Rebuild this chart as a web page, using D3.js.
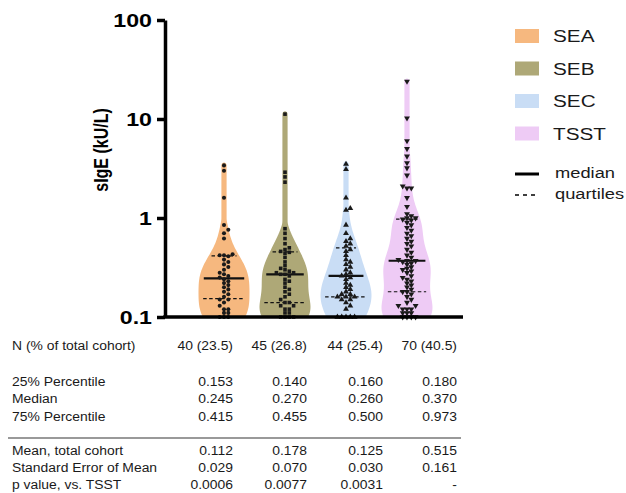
<!DOCTYPE html>
<html>
<head>
<meta charset="utf-8">
<script src="https://cdn.jsdelivr.net/npm/d3@7"></script>
<style>
  body { margin: 0; background: #fff; }
  text { font-family: Arial, "Liberation Sans", sans-serif; fill: #1a1a1a; }
</style>
</head>
<body>
<div id="graphic"></div>
<script>
// groups and raw values (kU/L)
var groups = ["SEA", "SEB", "SEC", "TSST"];
var colors = ["#f6b87f", "#aea877", "#c9ddf5", "#eecbf5"];

var seaValues = [0.10, 0.10, 0.10, 0.11, 0.11, 0.12, 0.12, 0.13, 0.14, 0.15,
  0.15, 0.16, 0.17, 0.18, 0.19, 0.20, 0.21, 0.22, 0.23, 0.24,
  0.25, 0.26, 0.27, 0.28, 0.30, 0.32, 0.34, 0.36, 0.38, 0.41,
  0.42, 0.42, 0.43, 0.62, 0.70, 0.76, 0.85, 1.6, 3.0, 3.4];
var sebValues = [0.10, 0.10, 0.10, 0.10, 0.11, 0.11, 0.12, 0.12, 0.13, 0.13, 0.14,
  0.14, 0.15, 0.16, 0.17, 0.18, 0.19, 0.20, 0.22, 0.23, 0.24, 0.26,
  0.27, 0.27, 0.28, 0.28, 0.29, 0.30, 0.31, 0.33, 0.36, 0.40, 0.44, 0.45,
  0.46, 0.48, 0.50, 0.55, 0.62, 0.70, 0.78, 2.3, 2.6, 2.9, 11.2];
var secValues = [0.10, 0.10, 0.10, 0.10, 0.10, 0.12, 0.13, 0.14, 0.15, 0.15, 0.16,
  0.16, 0.16, 0.17, 0.17, 0.18, 0.19, 0.20, 0.21, 0.22, 0.24, 0.25,
  0.26, 0.27, 0.28, 0.30, 0.32, 0.34, 0.36, 0.38, 0.42, 0.46, 0.48,
  0.52, 0.55, 0.58, 0.62, 0.70, 0.85, 1.2, 1.25, 1.6, 3.1, 3.5];
var tsstValues = [0.10, 0.10, 0.10, 0.10, 0.11, 0.11, 0.11, 0.12, 0.12, 0.12, 0.13, 0.13, 0.14, 0.15, 0.16, 0.17, 0.18,
  0.18, 0.19, 0.20, 0.21, 0.22, 0.23, 0.24, 0.25, 0.26, 0.28, 0.29, 0.30, 0.31, 0.32, 0.34, 0.35, 0.36,
  0.37, 0.37, 0.38, 0.40, 0.42, 0.45, 0.48, 0.52, 0.55, 0.58, 0.62, 0.66, 0.70, 0.75, 0.80, 0.85, 0.90, 0.95, 0.97,
  1.0, 1.0, 1.05, 1.1, 1.3, 1.6, 2.0, 2.0, 2.1, 2.7, 3.2, 3.6, 4.2, 5.0, 6.0, 10.2, 24];

// summary table
var nPercent = ["40 (23.5)", "45 (26.8)", "44 (25.4)", "70 (40.5)"];
var q1 = [0.153, 0.140, 0.160, 0.180];
var medians = [0.245, 0.270, 0.260, 0.370];
var q3 = [0.415, 0.455, 0.500, 0.973];
var means = [0.112, 0.178, 0.125, 0.515];
var sems = [0.029, 0.070, 0.030, 0.161];
var pValues = ["0.0006", "0.0077", "0.0031", "-"];

var yTicks = [0.1, 1, 10, 100];

var width = 626, height = 493;
var SX = 1.22;   // the reference text is a bit wide
var svg = d3.select("#graphic").append("svg").attr("width", width).attr("height", height);

var x = d3.scaleBand().domain(groups).range([193.5, 437.5]);
var y = d3.scaleLog().domain([0.1, 100]).range([317, 20]);
var allValues = [seaValues, sebValues, secValues, tsstValues];

// gaussian kde on log values, partly reflected at the lower bound
function kde(vals, bw, refl) {
  var lv = vals.map(function(v) { return Math.log10(v); });
  var lo = d3.min(lv);
  return function(t) {
    return d3.sum(lv, function(l) {
      var u = (t - l) / bw, r = (t - (2 * lo - l)) / bw;
      return Math.exp(-0.5 * u * u) + refl * Math.exp(-0.5 * r * r);
    });
  };
}

// violins
var maxHalf = 25.5, minHalf = 2.6, cap = 0.03;
var halfFns = [];
groups.forEach(function(g, gi) {
  var vals = allValues[gi];
  var cx = x(g) + x.bandwidth() / 2;
  var f = kde(vals, 0.15, 0.45);
  var lo = Math.log10(d3.min(vals)), hi = Math.log10(d3.max(vals));
  var grid = d3.range(lo, hi, (hi - lo) / 90).concat([hi]);
  var peak = d3.max(grid, f);
  var half = function(t) { return Math.max(minHalf, Math.pow(f(t) / peak, 1.4) * maxHalf); };
  halfFns.push(half);
  var pts = grid.map(function(t) { return { t: t, h: half(t) }; });
  var hh = half(hi);
  d3.range(1, 7).forEach(function(k) {
    var dt = cap * k / 6;
    pts.push({ t: hi + dt, h: hh * Math.sqrt(Math.max(0, 1 - (k / 6) * (k / 6))) });
  });
  var area = d3.area()
    .y(function(d) { return y(Math.pow(10, d.t)); })
    .x0(function(d) { return cx - d.h; })
    .x1(function(d) { return cx + d.h; })
    .curve(d3.curveBasis);
  svg.append("path").datum(pts).attr("d", area).attr("fill", colors[gi]);
});

// median and quartile lines
groups.forEach(function(g, gi) {
  var cx = x(g) + x.bandwidth() / 2;
  var half = halfFns[gi];
  [[q1[gi], true], [q3[gi], true], [medians[gi], false]].forEach(function(q) {
    var w = half(Math.log10(q[0])) * 0.82;
    svg.append("line")
      .attr("x1", cx - w).attr("x2", cx + w)
      .attr("y1", y(q[0])).attr("y2", y(q[0]))
      .attr("stroke", "#111")
      .attr("stroke-width", q[1] ? 1.2 : 2.2)
      .attr("stroke-dasharray", q[1] ? "3.5,2.5" : null);
  });
});

// dots, simple beeswarm
var symbols = [d3.symbol().type(d3.symbolCircle).size(13),
  d3.symbol().type(d3.symbolSquare).size(13),
  d3.symbol().type(d3.symbolTriangle).size(15),
  d3.symbol().type(d3.symbolTriangle).size(15)];
groups.forEach(function(g, gi) {
  var cx = x(g) + x.bandwidth() / 2;
  var s = 4.3;
  var placed = [];
  allValues[gi].slice().sort(d3.ascending).forEach(function(v) {
    var py = y(v), off = 0;
    for (var k = 0; k < 20; k++) {
      off = k === 0 ? 0 : (k % 2 ? 1 : -1) * Math.ceil(k / 2) * s;
      var hit = placed.some(function(p) {
        return Math.abs(p.x - off) < s * 0.9 && Math.abs(p.y - py) < 3.6;
      });
      if (!hit) break;
    }
    placed.push({ x: off, y: py });
  });
  svg.append("g").selectAll("path").data(placed).enter().append("path")
    .attr("d", symbols[gi])
    .attr("fill", "#1a1a1a")
    .attr("transform", function(d) {
      return "translate(" + (cx + d.x) + "," + d.y + ")" + (gi === 3 ? " rotate(180)" : "");
    });
});

// axes
var yAxis = svg.append("g").attr("transform", "translate(165,0)")
  .call(d3.axisLeft(y).tickValues(yTicks).tickFormat(d3.format("~g")).tickSize(8).tickSizeOuter(0));
yAxis.select(".domain").attr("stroke", "#000").attr("stroke-width", 3.5);
yAxis.selectAll(".tick line").attr("stroke", "#000").attr("stroke-width", 3.5);
yAxis.selectAll(".tick text")
  .attr("x", -13 / SX).attr("dy", "0.36em")
  .attr("transform", "scale(" + SX + ",1)")
  .style("font-size", "19px").style("font-weight", "bold").style("fill", "#000");

svg.append("line").attr("x1", 163.25).attr("x2", 463).attr("y1", 317).attr("y2", 317)
  .attr("stroke", "#000").attr("stroke-width", 3.5);

svg.append("text")
  .attr("transform", "translate(108,150) rotate(-90) scale(1,1.24)")
  .attr("text-anchor", "middle")
  .style("font-size", "16px").style("font-weight", "bold").style("fill", "#000")
  .text("sIgE (kU/L)");

// legend
function label(sel, tx, ty, str, size, anchor, sx) {
  return sel.append("text")
    .attr("transform", "translate(" + tx + "," + ty + ") scale(" + (sx || SX) + ",1)")
    .attr("text-anchor", anchor || "start")
    .style("font-size", size + "px")
    .text(str);
}
var legend = svg.append("g");
groups.forEach(function(g, gi) {
  var cy = 36 + gi * 32.5;
  legend.append("rect").attr("x", 515).attr("y", cy - 7).attr("width", 24).attr("height", 14).attr("fill", colors[gi]);
  label(legend, 553, cy + 6.2, g, 17);
});
legend.append("line").attr("x1", 515).attr("x2", 539).attr("y1", 174).attr("y2", 174)
  .attr("stroke", "#000").attr("stroke-width", 3);
label(legend, 555, 178, "median", 15);
legend.append("line").attr("x1", 515).attr("x2", 539).attr("y1", 195).attr("y2", 195)
  .attr("stroke", "#000").attr("stroke-width", 1.6).attr("stroke-dasharray", "4,4");
label(legend, 555, 199, "quartiles", 15);

// table
var fmt3 = d3.format(".3f");
var colRight = [233, 307, 383, 457];
var TX = 1.13;
var rows = [
  { y: 350, name: "N (% of total cohort)", vals: nPercent },
  { y: 386, name: "25% Percentile", vals: q1.map(fmt3) },
  { y: 403, name: "Median", vals: medians.map(fmt3) },
  { y: 421, name: "75% Percentile", vals: q3.map(fmt3) },
  { y: 455, name: "Mean, total cohort", vals: means.map(fmt3) },
  { y: 472, name: "Standard Error of Mean", vals: sems.map(fmt3) },
  { y: 489, name: "p value, vs.  TSST", vals: pValues }
];
var table = svg.append("g");
rows.forEach(function(r) {
  label(table, 12, r.y, r.name, 12.3, "start", TX);
  r.vals.forEach(function(v, i) {
    label(table, colRight[i], r.y, v, 12.3, "end", TX);
  });
});
table.append("line").attr("x1", 8).attr("x2", 461).attr("y1", 438).attr("y2", 438)
  .attr("stroke", "#999").attr("stroke-width", 2);
</script>
</body>
</html>
